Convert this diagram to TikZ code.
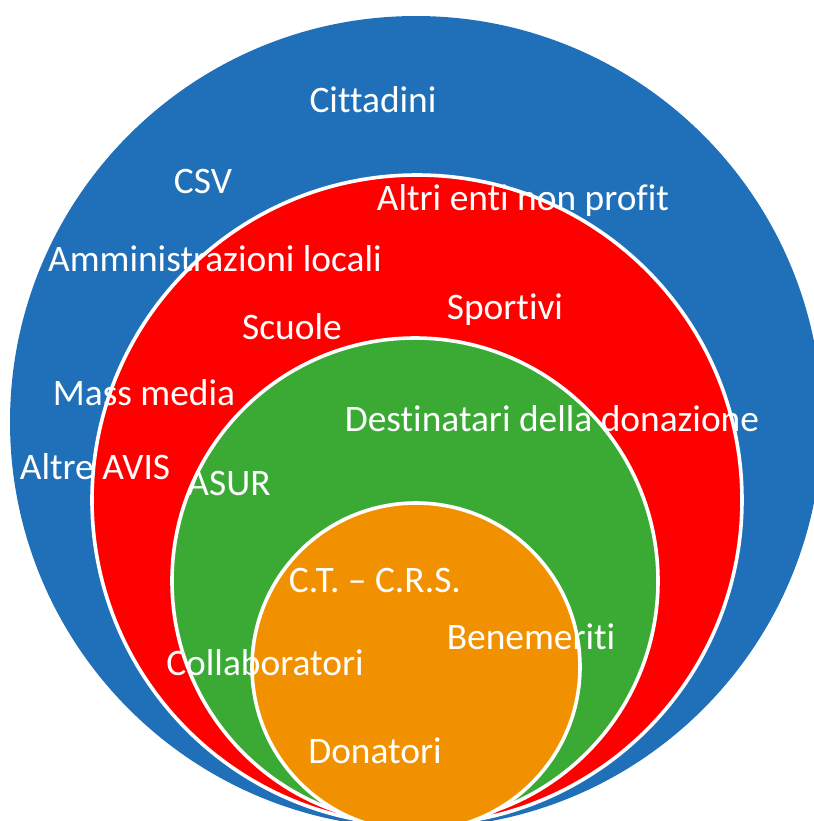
\documentclass[tikz,border=0pt]{standalone}
\usepackage{fontspec}
\setmainfont{Carlito}[Ligatures=NoCommon]
\definecolor{ringblue}{HTML}{1F70B8}
\definecolor{ringred}{HTML}{FF0000}
\definecolor{ringgreen}{HTML}{3AAA35}
\definecolor{ringorange}{HTML}{F29100}

\begin{document}
\begin{tikzpicture}[x=0.5pt,y=-0.5pt,
        ring/.style={draw=white,line width=1.8pt},
        word/.style={text=white,anchor=base,inner sep=0pt,font=\fontsize{18.7}{20}\selectfont}]
        \useasboundingbox (0,0) rectangle (814,821);
        \clip (0,0) rectangle (814,821);

        % nested circles
        \fill[ringblue] (416,422) circle[radius=203pt];
        \filldraw[ring,fill=ringred] (417,500) circle[radius=162.5pt];
        \filldraw[ring,fill=ringgreen] (415,581) circle[radius=121.5pt];
        \filldraw[ring,fill=ringorange] (416,667) circle[radius=82pt];

        % texts
        \node[word] (cit) at (373,112) {Cittadini};
        \node[word] (csv) at (203,193) {CSV};
        \node[word] (enti) at (523,210) {Altri enti non profit};
        \node[word] (amm) at (215,271) {Amministrazioni locali};
        \node[word] (scu) at (292,339) {Scuole};
        \node[word] (spo) at (505,319) {Sportivi};
        \node[word] (mass) at (144,405) {Mass media};
        \node[word] (dest) at (552,431) {Destinatari della donazione};
        \node[word] (avis) at (95,479) {Altre AVIS};
        \node[word] (asur) at (229,495) {ASUR};
        \node[word] (ct) at (375,592) {C.T. – C.R.S.};
        \node[word] (ben) at (531,649) {Benemeriti};
        \node[word] (coll) at (265,675) {Collaboratori};
        \node[word] (don) at (375,763) {Donatori};
\end{tikzpicture}
\end{document}
